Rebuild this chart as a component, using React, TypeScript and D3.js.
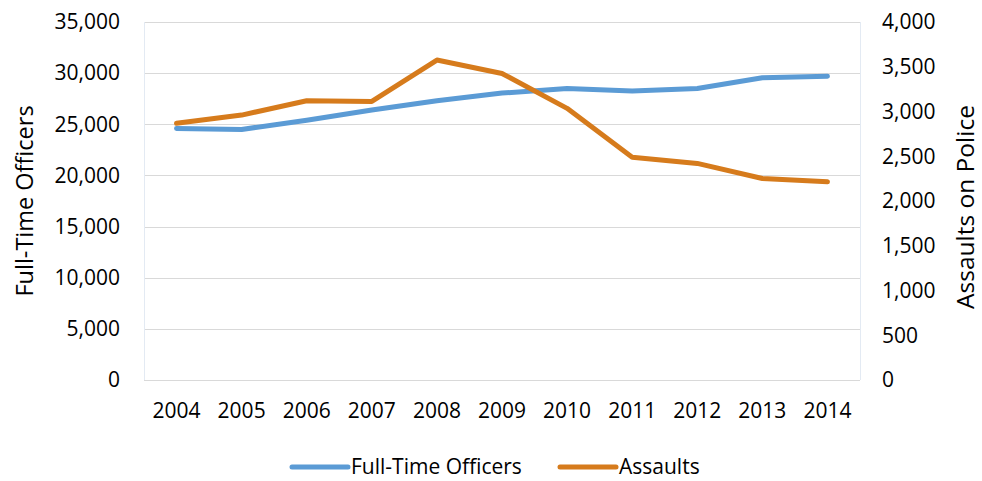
import { useEffect, useRef } from 'react';
import * as d3 from 'd3';

const years = ['2004', '2005', '2006', '2007', '2008', '2009', '2010', '2011', '2012', '2013', '2014'];
const officers = [24600, 24500, 25400, 26400, 27300, 28050, 28500, 28250, 28500, 29550, 29700];
const assaults = [2868, 2960, 3120, 3112, 3575, 3425, 3035, 2488, 2420, 2252, 2215];
const leftTicks = [0, 5000, 10000, 15000, 20000, 25000, 30000, 35000];
const rightTicks = [0, 500, 1000, 1500, 2000, 2500, 3000, 3500, 4000];

const W = 982;
const H = 481;
const margin = { top: 22, right: 122, bottom: 101, left: 144 };
const font = '"Open Sans", sans-serif';
const blue = '#5b9bd5';
const orange = '#d67b1c';

export default function App() {
  const ref = useRef<SVGSVGElement>(null);

  useEffect(() => {
    if (!ref.current) return;
    const svg = d3.select(ref.current);
    svg.selectAll('*').remove();

    const x = d3
      .scaleBand()
      .domain(years)
      .range([margin.left, W - margin.right]);

    const yL = d3
      .scaleLinear()
      .domain([0, 35000])
      .range([H - margin.bottom, margin.top]);

    const yR = d3
      .scaleLinear()
      .domain([0, 4000])
      .range([H - margin.bottom, margin.top]);

    const fmt = d3.format(',');
    const cx = (d: string) => (x(d) as number) + x.bandwidth() / 2;

    // gridlines
    svg
      .append('g')
      .attr('stroke', '#d9d9d9')
      .attr('stroke-width', 1)
      .selectAll('line')
      .data(leftTicks)
      .join('line')
      .attr('x1', margin.left)
      .attr('x2', W - margin.right)
      .attr('y1', d => Math.round(yL(d)) + 0.5)
      .attr('y2', d => Math.round(yL(d)) + 0.5);

    // faint plot-area edges
    svg
      .append('g')
      .attr('stroke', '#e3eaf3')
      .selectAll('line')
      .data([margin.left, W - margin.right])
      .join('line')
      .attr('x1', d => d + 0.5)
      .attr('x2', d => d + 0.5)
      .attr('y1', margin.top)
      .attr('y2', H - margin.bottom);

    // left ticks
    svg
      .append('g')
      .style('font-family', font)
      .style('font-size', '21px')
      .attr('fill', '#000')
      .selectAll('text')
      .data(leftTicks)
      .join('text')
      .attr('x', 120)
      .attr('y', d => yL(d))
      .attr('dy', '0.35em')
      .attr('text-anchor', 'end')
      .text(d => fmt(d));

    // right ticks
    svg
      .append('g')
      .style('font-family', font)
      .style('font-size', '21px')
      .attr('fill', '#000')
      .selectAll('text')
      .data(rightTicks)
      .join('text')
      .attr('x', 882)
      .attr('y', d => yR(d))
      .attr('dy', '0.35em')
      .attr('text-anchor', 'start')
      .text(d => fmt(d));

    // x labels
    svg
      .append('g')
      .style('font-family', font)
      .style('font-size', '21px')
      .selectAll('text')
      .data(years)
      .join('text')
      .attr('x', d => cx(d))
      .attr('y', 411)
      .attr('dy', '0.35em')
      .attr('text-anchor', 'middle')
      .text(d => d);

    // axis titles
    svg
      .append('text')
      .attr('transform', 'translate(33, 201) rotate(-90)')
      .attr('text-anchor', 'middle')
      .style('font-family', font)
      .style('font-size', '23.5px')
      .text('Full-Time Officers');

    svg
      .append('text')
      .attr('transform', 'translate(974, 207) rotate(-90)')
      .attr('text-anchor', 'middle')
      .style('font-family', font)
      .style('font-size', '24.5px')
      .text('Assaults on Police');

    // lines
    const lineL = d3
      .line<number>()
      .x((_, i) => cx(years[i]))
      .y(d => yL(d));
    const lineR = d3
      .line<number>()
      .x((_, i) => cx(years[i]))
      .y(d => yR(d));

    svg
      .append('path')
      .datum(officers)
      .attr('d', lineL)
      .attr('fill', 'none')
      .attr('stroke', blue)
      .attr('stroke-width', 5)
      .attr('stroke-linecap', 'round')
      .attr('stroke-linejoin', 'round');

    svg
      .append('path')
      .datum(assaults)
      .attr('d', lineR)
      .attr('fill', 'none')
      .attr('stroke', orange)
      .attr('stroke-width', 5)
      .attr('stroke-linecap', 'round')
      .attr('stroke-linejoin', 'round');

    // legend
    const legend = [
      { name: 'Full-Time Officers', color: blue, x: 292 },
      { name: 'Assaults', color: orange, x: 560 }
    ];
    const lg = svg
      .append('g')
      .selectAll('g')
      .data(legend)
      .join('g')
      .attr('transform', d => `translate(${d.x}, 467)`);
    lg.append('line')
      .attr('x1', 0)
      .attr('x2', 56)
      .attr('stroke', d => d.color)
      .attr('stroke-width', 5)
      .attr('stroke-linecap', 'round');
    lg.append('text')
      .attr('x', 59)
      .attr('dy', '0.35em')
      .style('font-family', font)
      .style('font-size', '21px')
      .text(d => d.name);
  }, []);

  return (
    <svg
      ref={ref}
      width={W}
      height={H}
      style={{ position: 'absolute', left: 0, top: 0, background: '#fff' }}
    />
  );
}
